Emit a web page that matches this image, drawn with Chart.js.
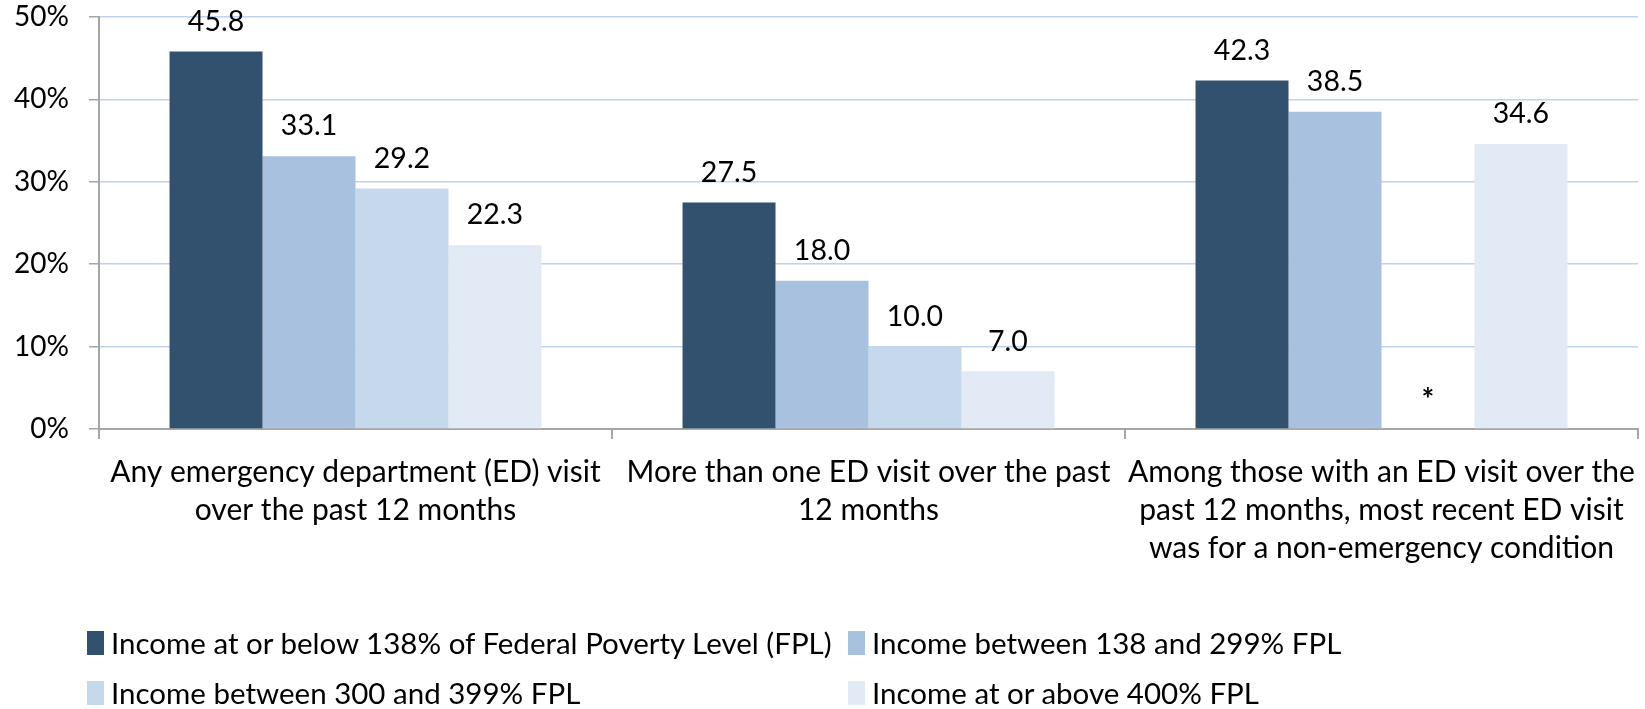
<!DOCTYPE html>
<html>
<head>
<meta charset="utf-8">
<script src="https://cdn.jsdelivr.net/npm/chart.js@4.4.1/dist/chart.umd.min.js"></script>
<style>
  html, body { margin: 0; padding: 0; background: #fff; }
  #wrap { position: relative; width: 1645px; height: 709px; overflow: hidden; }
  #c { position: absolute; left: 0; top: 0; }
  #legend { position: absolute; left: 0; top: 0; width: 1645px; height: 709px; pointer-events: none;
            font-family: Lato, "Open Sans", sans-serif; font-size: 29.5px; color: #000; }
  .li { position: absolute; white-space: nowrap; line-height: 32px; }
  .li .box { position: absolute; width: 17px; height: 24px; top: 4px; }
  .li .txt { position: absolute; top: 0; }
</style>
</head>
<body>
<div id="wrap">
  <canvas id="c" width="1645" height="709"></canvas>
  <div id="legend"></div>
</div>
<script>
// ---- data ----
const categories = [
  ["Any emergency department (ED) visit", "over the past 12 months"],
  ["More than one ED visit over the past", "12 months"],
  ["Among those with an ED visit over the", "past 12 months, most recent ED visit", "was for a non-emergency condition"]
];
const seriesNames = [
  "Income at or below 138% of Federal Poverty Level (FPL)",
  "Income between 138 and 299% FPL",
  "Income between 300 and 399% FPL",
  "Income at or above 400% FPL"
];
const below138 = [45.8, 27.5, 42.3];
const between138and299 = [33.1, 18.0, 38.5];
const between300and399 = [29.2, 10.0, null];   // suppressed value shown as *
const above400 = [22.3, 7.0, 34.6];
const yTickValues = [0, 10, 20, 30, 40, 50];
const suppressedMark = "*";

const seriesColors = ["#31516f", "#a7c1df", "#c6d8ec", "#e2eaf5"];
const FONT = 'Lato, "Open Sans", sans-serif';

const seriesData = [below138, between138and299, between300and399, above400];

const valueLabels = {
  id: 'valueLabels',
  afterDatasetsDraw(chart) {
    const ctx = chart.ctx;
    const y0 = chart.scales.y.getPixelForValue(0);
    ctx.save();
    ctx.fillStyle = '#000';
    ctx.textAlign = 'center';
    ctx.textBaseline = 'middle';
    chart.data.datasets.forEach((ds, di) => {
      const meta = chart.getDatasetMeta(di);
      meta.data.forEach((bar, i) => {
        const v = ds.data[i];
        if (v === null || v === undefined) {
          ctx.font = 'bold 30px ' + FONT;
          ctx.fillText(suppressedMark, bar.x, y0 - 29);
        } else {
          ctx.font = '28.5px ' + FONT;
          ctx.fillText(v.toFixed(1), bar.x, bar.y - 30);
        }
      });
    });
    ctx.restore();
  }
};

const chart = new Chart(document.getElementById('c'), {
  type: 'bar',
  data: {
    labels: categories,
    datasets: seriesNames.map((name, i) => ({
      label: name,
      data: seriesData[i],
      backgroundColor: seriesColors[i],
      borderWidth: 0,
      categoryPercentage: 0.725,
      barPercentage: 1.0
    }))
  },
  options: {
    responsive: false,
    animation: false,
    devicePixelRatio: 1,
    layout: { padding: { left: 0, right: 7, top: 17, bottom: 140 } },
    plugins: { legend: { display: false }, tooltip: { enabled: false } },
    scales: {
      x: {
        afterFit(s) { s.height = 140; s.paddingLeft = 0; s.paddingRight = 0; },
        grid: { offset: true, drawOnChartArea: false, drawTicks: true, tickLength: 10, tickColor: '#a6a6a6', lineWidth: 2 },
        border: { color: '#a6a6a6', width: 2 },
        ticks: { font: { family: FONT, size: 30, lineHeight: 1.27 }, color: '#000', padding: 14, maxRotation: 0, autoSkip: false }
      },
      y: {
        min: 0, max: 50,
        afterFit(s) { s.width = 99; s.paddingTop = 0; s.paddingBottom = 0; },
        afterBuildTicks(s) { s.ticks = yTickValues.map(v => ({ value: v })); },
        grid: { color: '#bfd3ee', lineWidth: 1.5, tickColor: '#a6a6a6', tickLength: 10 },
        border: { color: '#a6a6a6', width: 2 },
        ticks: { font: { family: FONT, size: 28 }, color: '#000', padding: 20, callback: v => v + '%' }
      }
    }
  },
  plugins: [valueLabels]
});

// ---- legend (HTML, two columns like the original) ----
const legendPos = [[87, 627], [848, 627], [87, 677], [848, 677]];
const lg = document.getElementById('legend');
seriesNames.forEach((name, i) => {
  const d = document.createElement('div');
  d.className = 'li';
  d.style.left = legendPos[i][0] + 'px';
  d.style.top = legendPos[i][1] + 'px';
  d.innerHTML = '<span class="box" style="left:0;background:' + seriesColors[i] + '"></span>' +
                '<span class="txt" style="left:24px">' + name + '</span>';
  lg.appendChild(d);
});
</script>
</body>
</html>
